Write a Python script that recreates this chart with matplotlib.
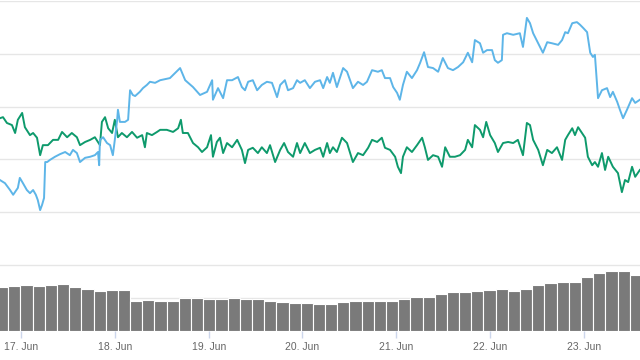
import numpy as np
import pandas as pd
import matplotlib
matplotlib.use("Agg")
import matplotlib.pyplot as plt
import matplotlib.dates as mdates

# hours after 17 Jun 00:00
blue_hours = [-5.4, -4.1, -2.8, -2.0, -0.8, -0.3, 0.5, 1.5, 2.3, 3.1, 3.8, 4.3, 4.9, 5.4, 5.9,
              6.2, 6.7, 7.4, 8.7, 10.0, 11.3, 12.5, 13.3, 14.3, 15.1, 16.4, 17.7, 18.9, 19.7,
              20.0, 20.2, 21.0, 22.0, 22.8, 23.5, 24.0, 24.6, 24.8, 25.3, 26.6, 27.4, 27.9,
              28.6, 29.2, 30.4, 31.2, 32.2, 33.0, 34.3, 35.6, 38.1, 40.7, 42.0, 44.0, 45.8,
              47.6, 48.9, 49.1, 50.4, 51.7, 52.7, 54.0, 55.5, 56.5, 57.3, 58.1, 59.3, 60.4,
              61.6, 62.9, 64.2, 65.5, 66.3, 67.5, 68.3, 69.6, 70.6, 71.4, 72.6, 73.9, 75.2,
              76.5, 77.3, 78.3, 79.0, 79.8, 80.8, 82.4, 83.4, 84.9, 86.2, 87.5, 88.5, 89.8,
              91.3, 92.3, 93.1, 94.4, 95.2, 96.2, 96.9, 97.7, 98.7, 100.0, 101.3, 102.1, 103.1,
              104.1, 105.4, 106.7, 107.9, 109.2, 110.5, 111.8, 113.1, 114.3, 115.4, 116.1,
              117.4, 118.2, 119.2, 120.5, 121.2, 122.0, 123.0, 123.3, 124.3, 125.9, 127.6,
              128.4, 129.4, 130.2, 131.0, 132.3, 133.5, 134.6, 135.8, 137.4, 138.4, 139.2,
              139.9, 141.0, 142.2, 143.0, 143.8, 144.8, 145.6, 146.3, 146.8, 147.3, 147.6,
              148.6, 149.9, 150.7, 151.4, 152.5, 153.2, 154.0, 155.0, 156.3, 157.1, 158.3]
blue_vals = [16.1, 15.5, 14.2, 13.3, 14.6, 16.5, 15.5, 14.2, 13.6, 14.2, 13.3, 12.3, 10.4, 11.4, 12.7,
             19.5, 19.5, 19.9, 20.5, 21.0, 21.4, 20.8, 21.8, 21.2, 19.5, 20.3, 20.5, 20.8, 21.4,
             18.9, 23.7, 24.2, 23.1, 22.7, 20.8, 23.7, 27.5, 29.4, 27.1, 27.1, 27.5, 33.1,
             32.2, 32.0, 32.8, 33.5, 34.1, 34.7, 34.5, 35.0, 35.4, 37.3, 35.0, 33.7, 32.2,
             32.8, 35.0, 31.3, 33.5, 31.6, 35.0, 35.0, 35.6, 33.7, 33.1, 34.7, 35.0, 33.1,
             34.1, 34.7, 34.5, 31.8, 34.1, 35.0, 33.1, 33.5, 35.0, 34.5, 35.0, 33.5, 34.7,
             35.0, 33.5, 35.6, 34.5, 36.4, 33.7, 37.3, 36.6, 33.5, 34.7, 34.1, 34.7, 36.9,
             36.6, 36.9, 35.4, 35.4, 33.7, 32.6, 31.3, 34.1, 36.6, 35.4, 36.9, 38.3, 40.3,
             37.5, 37.3, 36.6, 39.2, 37.3, 36.9, 37.5, 38.4, 40.2, 38.4, 42.6,
             42.0, 40.2, 40.7, 40.7, 38.8, 38.3, 38.8, 43.6, 43.9, 43.6, 43.9,
             41.3, 46.8, 45.8, 43.9, 42.0, 40.2, 42.2, 42.0, 41.7, 42.6, 44.1,
             43.9, 45.8, 46.0, 45.5, 44.9, 44.1, 40.2, 39.4, 39.8, 34.5, 31.6,
             33.1, 33.5, 31.8, 32.8, 30.9, 29.4, 27.8, 29.4, 31.6, 30.7, 31.3]

green_hours = [-5.4, -4.6, -3.6, -2.3, -1.5, -0.8, 0.3, 1.0, 2.3, 3.1, 4.1, 4.9, 5.6, 6.9, 8.2,
               9.5, 10.5, 11.8, 13.0, 14.3, 15.1, 16.4, 17.7, 18.9, 20.2, 20.7, 21.5, 22.3,
               23.3, 24.0, 24.8, 25.8, 27.1, 28.4, 29.7, 31.0, 31.7, 32.2, 33.5, 34.8, 35.6,
               37.3, 38.9, 40.2, 40.9, 41.4, 42.7, 44.0, 45.3, 46.3, 47.6, 48.6, 49.1, 50.1,
               50.9, 51.7, 52.7, 54.0, 55.3, 56.5, 57.3, 58.1, 59.3, 60.6, 61.6, 62.9, 63.7,
               65.0, 66.3, 67.3, 68.3, 69.6, 70.6, 71.4, 72.6, 73.9, 75.2, 76.5, 77.3, 78.3,
               79.0, 79.8, 80.8, 82.1, 83.4, 84.9, 86.2, 87.5, 88.8, 89.8, 91.1, 92.3, 93.1,
               94.4, 95.7, 96.4, 97.2, 97.7, 98.7, 100.0, 101.3, 102.6, 103.3, 104.1, 105.4,
               106.7, 107.7, 108.5, 109.7, 111.0, 112.3, 113.6, 114.3, 115.4, 116.1, 117.4,
               118.2, 119.0, 120.0, 121.2, 122.0, 123.3, 124.6, 125.9, 127.1, 128.4, 129.4,
               130.2, 131.0, 132.3, 133.5, 134.6, 135.8, 137.1, 138.4, 139.2, 139.9, 141.0,
               141.7, 142.5, 143.5, 144.3, 145.0, 146.1, 146.8, 147.6, 148.6, 149.4, 150.2,
               151.4, 152.7, 153.7, 154.5, 155.3, 156.3, 157.1, 158.3]
green_vals = [27.8, 28.0, 26.9, 26.5, 25.0, 27.5, 28.8, 26.1, 24.6, 25.0, 24.1, 20.8, 22.7, 22.7, 23.7,
              23.7, 25.2, 24.2, 25.0, 24.2, 22.7, 23.3, 23.7, 24.2, 22.7, 27.1, 28.0, 25.9,
              25.0, 27.5, 24.2, 25.0, 24.2, 25.2, 24.1, 24.6, 22.3, 25.0, 24.6, 25.2, 25.6,
              25.6, 25.2, 25.9, 27.5, 25.0, 25.0, 23.1, 22.3, 21.4, 22.3, 24.6, 20.5, 23.3,
              24.1, 21.2, 23.1, 22.3, 23.7, 21.8, 19.3, 21.8, 22.2, 21.2, 22.3, 21.2, 22.7,
              19.5, 21.8, 23.1, 21.4, 20.5, 23.1, 21.2, 23.1, 21.2, 21.8, 22.2, 20.5, 23.1,
              21.2, 22.3, 21.4, 24.1, 23.1, 19.5, 21.2, 20.8, 22.2, 23.7, 23.3, 24.1, 22.2,
              21.8, 20.5, 18.6, 17.4, 20.5, 22.3, 21.4, 22.7, 24.1, 22.3, 19.9, 20.8,
              20.5, 18.6, 22.3, 20.5, 20.5, 20.8, 21.8, 23.7, 22.3, 26.5, 25.6,
              24.2, 27.1, 24.6, 23.1, 21.4, 23.1, 23.3, 23.1, 23.7, 20.8, 26.9,
              26.5, 23.7, 21.8, 18.9, 21.8, 21.2, 22.3, 19.9, 23.7, 24.6, 25.9,
              24.6, 26.1, 25.0, 24.1, 20.5, 18.9, 19.5, 18.6, 21.2, 18.0, 20.5,
              18.6, 17.4, 13.8, 16.1, 15.7, 18.6, 16.7, 18.0]

volume = [134.2, 136.4, 139.4, 137.3, 140.3, 141.5, 134.2, 126.4, 120.3, 124.2, 124.2, 90.9,
          93.0, 91.8, 91.8, 99.1, 99.1, 97.0, 97.0, 100.0, 96.1, 96.1, 90.9, 87.9, 84.8,
          83.9, 80.9, 80.9, 87.0, 90.9, 91.8, 91.8, 91.8, 96.1, 103.9, 103.9, 112.1, 117.3,
          119.1, 122.1, 125.1, 126.4, 122.1, 127.3, 139.4, 144.5, 147.6, 149.4, 164.5,
          174.8, 182.7, 182.7, 169.7]

t0 = pd.Timestamp("2019-06-17 00:00")
blue_t = t0 + pd.to_timedelta(blue_hours, unit="h")
green_t = t0 + pd.to_timedelta(green_hours, unit="h")
vol_t = pd.date_range("2019-06-16 17:38", periods=len(volume), freq="187min")
bar_w = 187 / (24 * 60)

x0 = pd.Timestamp("2019-06-16 18:38")
x1 = pd.Timestamp("2019-06-23 14:20")

fig = plt.figure(figsize=(6.4, 3.6), dpi=100)
ax = fig.add_axes([0, 0.2639, 1, 0.7333])
axv = fig.add_axes([0, 0.0806, 1, 0.1833], sharex=ax)

grid_c = "#e6e6e6"
ax.plot(green_t, green_vals, color="#0e9a6c", lw=1.4, zorder=3)
ax.plot(blue_t, blue_vals, color="#5db5e8", lw=1.4, zorder=4)
ax.set_ylim(0, 50)
ax.set_yticks([0, 10, 20, 30, 40, 50])
ax.grid(axis="y", color=grid_c, lw=1)
ax.set_xlim(x0, x1)

axv.bar(vol_t, volume, width=bar_w, align="edge", color="#7a7a7a",
        edgecolor="white", linewidth=0.8, zorder=3)
axv.set_ylim(0, 200)
axv.set_yticks([0, 100, 200])
axv.grid(axis="y", color=grid_c, lw=1, zorder=0)
axv.set_axisbelow(True)

for a in (ax, axv):
    for s in a.spines.values():
        s.set_visible(False)
    a.tick_params(axis="y", left=False, labelleft=False)
    a.patch.set_alpha(0)

ax.tick_params(axis="x", bottom=False, labelbottom=False)
axv.xaxis.set_major_locator(mdates.DayLocator())
axv.xaxis.set_major_formatter(mdates.DateFormatter("%d. %b"))
axv.tick_params(axis="x", length=5, width=1, color="#ccd6eb", pad=3,
                labelsize=7.5, labelcolor="#666666")
for lbl in axv.get_xticklabels():
    lbl.set_family("Liberation Sans")

fig.savefig("out.png", dpi=100)
